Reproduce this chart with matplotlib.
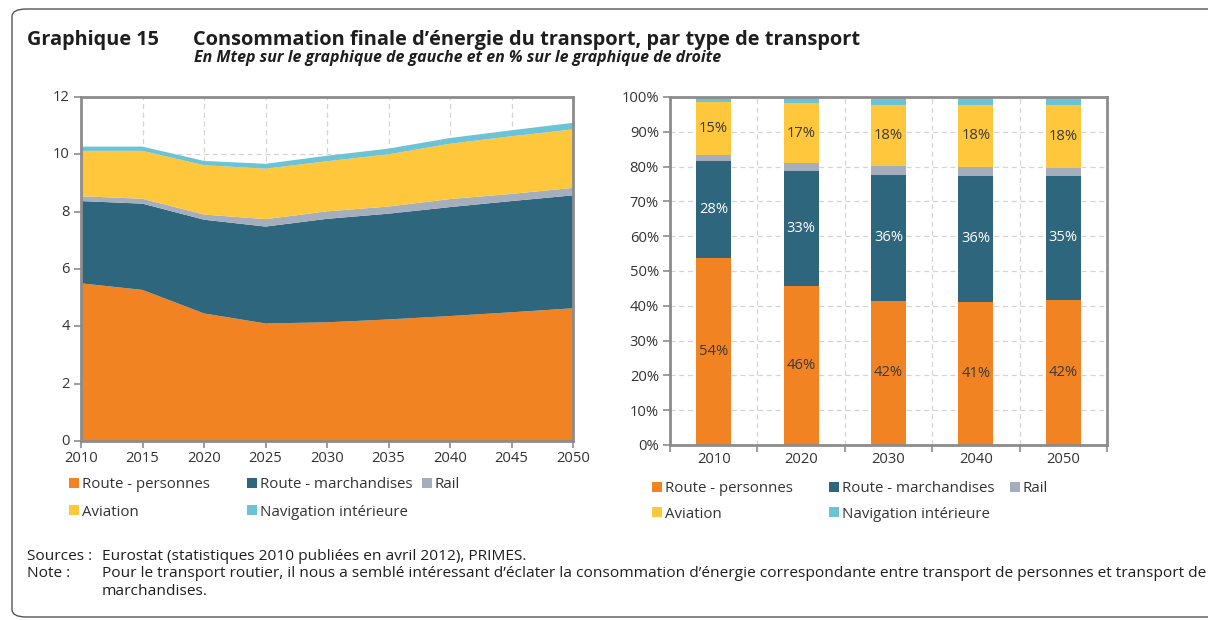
import matplotlib
matplotlib.use("Agg")
import matplotlib.pyplot as plt
from matplotlib.patches import FancyBboxPatch, Patch
from matplotlib.transforms import ScaledTranslation
import numpy as np

FONT = ['Open Sans', 'DejaVu Sans']
plt.rcParams['font.family'] = FONT

# ---- Data ----
years = [2010, 2015, 2020, 2025, 2030, 2035, 2040, 2045, 2050]
route_personnes = [5.50, 5.27, 4.45, 4.10, 4.14, 4.24, 4.36, 4.49, 4.63]
route_marchandises = [2.87, 3.01, 3.27, 3.38, 3.61, 3.69, 3.80, 3.88, 3.94]
rail = [0.17, 0.17, 0.18, 0.26, 0.26, 0.25, 0.28, 0.25, 0.26]
aviation = [1.58, 1.67, 1.72, 1.76, 1.75, 1.82, 1.93, 2.01, 2.04]
navigation = [0.15, 0.15, 0.15, 0.17, 0.19, 0.20, 0.20, 0.21, 0.23]

bar_years = ['2010', '2020', '2030', '2040', '2050']
pct_route_personnes = [53.6, 45.6, 41.5, 41.2, 41.8]
pct_route_marchandises = [28.1, 33.1, 36.2, 36.0, 35.4]
pct_rail = [1.6, 2.2, 2.5, 2.6, 2.4]
pct_aviation = [15.2, 17.4, 17.6, 18.0, 18.2]
pct_navigation = [1.5, 1.7, 2.2, 2.2, 2.2]

series_names = ['Route - personnes', 'Route - marchandises', 'Rail',
                'Aviation', 'Navigation intérieure']
colors = ['#F28323', '#2E677D', '#A5AEBC', '#FFC73B', '#6CC3D5']

title_num = 'Graphique 15'
title = 'Consommation finale d\u2019énergie du transport, par type de transport'
subtitle = 'En Mtep sur le graphique de gauche et en % sur le graphique de droite'
sources_lbl = 'Sources :'
sources = 'Eurostat (statistiques 2010 publiées en avril 2012), PRIMES.'
note_lbl = 'Note :'
note_line1 = ('Pour le transport routier, il nous a semblé intéressant d\u2019éclater la consommation '
              'd\u2019énergie correspondante entre transport de personnes et transport de')
note_line2 = 'marchandises.'

W, H = 1208, 620
fig = plt.figure(figsize=(W / 100, H / 100), dpi=100)
renderer = fig.canvas.get_renderer()


def size_for(txt, target_px, weight='normal', style='normal', base=10.0):
    t = fig.text(0, 0, txt, fontsize=base, fontweight=weight, style=style)
    w = t.get_window_extent(renderer=renderer).width
    t.remove()
    return base * target_px / w


def px(xp, yp):
    return xp / W, 1 - yp / H


# frame
frame = FancyBboxPatch((12 / W, 3 / H), (W + 20) / W, (H - 12) / H,
                       boxstyle="round,pad=0,rounding_size=0.012",
                       transform=fig.transFigure, fill=False,
                       edgecolor='#555555', linewidth=1.0, clip_on=False)
fig.patches.append(frame)

text_col = '#1E1E1E'
fs_num = size_for(title_num, 132, weight='bold')
fs_title = size_for(title, 669, weight='bold')
fs_sub = size_for(subtitle, 530, weight='bold', style='italic')
fig.text(*px(27, 45), title_num, fontsize=fs_num, fontweight='bold',
         color=text_col, va='baseline')
fig.text(*px(193, 45), title, fontsize=fs_title, fontweight='bold',
         color=text_col, va='baseline')
fig.text(*px(194, 62), subtitle, fontsize=fs_sub, fontweight='bold',
         style='italic', color=text_col, va='baseline')

spine_col = '#8C8C8C'
grid_col = '#D4D4D4'
tick_col = '#333333'
fs_tick = size_for('2010', 34)
fs_leg = size_for('Route - personnes', 127)

# ---- Left: stacked area ----
ax1 = fig.add_axes([81 / W, (H - 441) / H, 492 / W, 344 / H])
stack = [route_personnes, route_marchandises, rail, aviation, navigation]
ax1.stackplot(years, *stack, colors=colors, linewidth=0, zorder=2)
ax1.set_xlim(2010, 2050)
ax1.set_ylim(0, 12)
ax1.set_xticks(years)
ax1.set_yticks(range(0, 13, 2))
ax1.grid(True, color=grid_col, linestyle=(0, (4, 3)), linewidth=0.9, zorder=0)
ax1.set_axisbelow(True)
for s in ax1.spines.values():
    s.set_color(spine_col)
    s.set_linewidth(2)
ax1.tick_params(axis='both', colors=spine_col, labelcolor=tick_col,
                labelsize=fs_tick, length=5, width=1.2, direction='out')
ax1.tick_params(axis='x', pad=2)
ax1.tick_params(axis='y', pad=3)
lift = ScaledTranslation(0, 1 / 72, fig.dpi_scale_trans)
for lab in ax1.get_yticklabels():
    lab.set_transform(lab.get_transform() + lift)

handles = [Patch(facecolor=c, edgecolor='none') for c in colors]
leg_kw = dict(frameon=False, fontsize=fs_leg, handlelength=0.65,
              handleheight=0.65, handletextpad=0.2, borderpad=0,
              borderaxespad=0, labelcolor='#333333')
# (series index, column, row)
legend_slots = [(0, 0, 0), (1, 1, 0), (2, 2, 0), (3, 0, 1), (4, 1, 1)]


def add_legend(col_x, row_y):
    for i, c, r in legend_slots:
        fig.legend([handles[i]], [series_names[i]], loc='center left',
                   bbox_to_anchor=px(col_x[c], row_y[r]), **leg_kw)


add_legend([69, 247, 422], [485, 512])

# ---- Right: 100% stacked bars ----
ax2 = fig.add_axes([670 / W, (H - 445) / H, 437 / W, 348 / H])
x = np.arange(len(bar_years))
pcts = [pct_route_personnes, pct_route_marchandises, pct_rail, pct_aviation, pct_navigation]
bottom = np.zeros(len(bar_years))
label_cols = ['#3A3A3A', 'white', None, '#3A3A3A', None]
for vals, c, lc in zip(pcts, colors, label_cols):
    vals = np.array(vals)
    ax2.bar(x, vals, width=0.4, bottom=bottom, color=c, zorder=2, linewidth=0)
    if lc is not None:
        for xi, b, v in zip(x, bottom, vals):
            ax2.text(xi, b + v / 2, f'{round(v):d}%', ha='center', va='center',
                     color=lc, fontsize=fs_tick, zorder=3)
    bottom = bottom + vals
ax2.set_xlim(-0.5, len(bar_years) - 0.5)
ax2.set_ylim(0, 100)
ax2.set_yticks(range(0, 101, 10))
ax2.set_yticklabels([f'{v}%' for v in range(0, 101, 10)])
ax2.set_xticks(np.arange(-0.5, len(bar_years), 1.0))
ax2.set_xticklabels([])
ax2.set_xticks(x, minor=True)
ax2.set_xticklabels(bar_years, minor=True)
ax2.tick_params(axis='x', which='minor', length=0, pad=5, labelsize=fs_tick,
                labelcolor=tick_col)
ax2.tick_params(axis='x', which='major', length=5, width=1.2, colors=spine_col)
ax2.tick_params(axis='y', length=5, width=1.2, colors=spine_col,
                labelcolor=tick_col, labelsize=fs_tick, pad=3)
ax2.grid(True, which='major', color=grid_col, linestyle=(0, (4, 3)),
         linewidth=0.9, zorder=0)
ax2.set_axisbelow(True)
for s in ax2.spines.values():
    s.set_color(spine_col)
    s.set_linewidth(2)

add_legend([652, 829, 1010], [489, 514])

# ---- Footnotes ----
fs_note = size_for(note_line1, 1100)
fig.text(*px(27, 560), sources_lbl, fontsize=fs_note, color=text_col, va='baseline')
fig.text(*px(102, 560), sources, fontsize=fs_note, color=text_col, va='baseline')
fig.text(*px(27, 577), note_lbl, fontsize=fs_note, color=text_col, va='baseline')
fig.text(*px(102, 577), note_line1, fontsize=fs_note, color=text_col, va='baseline')
fig.text(*px(102, 595), note_line2, fontsize=fs_note, color=text_col, va='baseline')

fig.savefig('out.png', dpi=100)
